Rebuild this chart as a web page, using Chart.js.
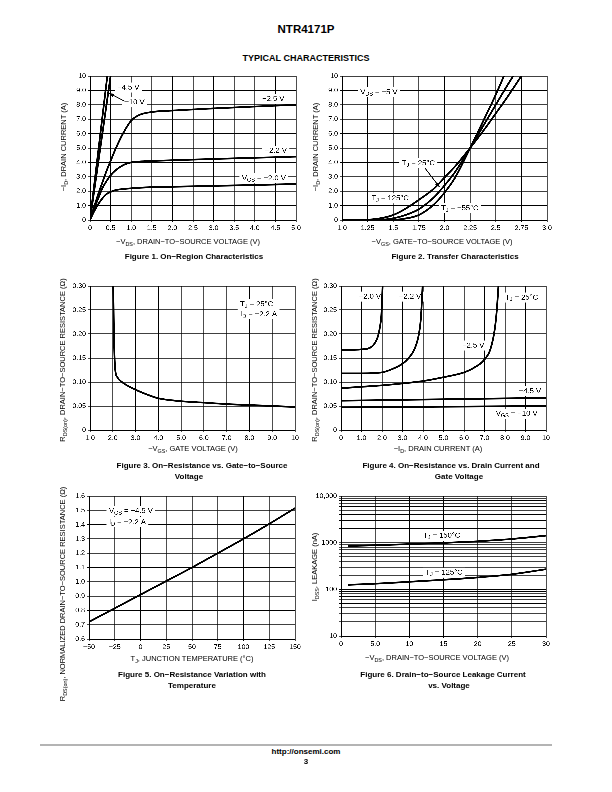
<!DOCTYPE html>
<html>
<head>
<meta charset="utf-8">
<script src="https://cdn.jsdelivr.net/npm/chart.js@4.4.1/dist/chart.umd.min.js"></script>
<style>
  body { margin: 0; background: #fff; }
  #page { position: relative; width: 612px; height: 792px; font-family: "Liberation Sans", Arial, sans-serif; color: #000; overflow: hidden; }
  .t { position: absolute; transform: translate(-50%, -50%); white-space: nowrap; font-size: 7.5px; line-height: 1; }
  .ry { transform: translate(-50%, -50%) rotate(-90deg); }
  .b { font-weight: bold; font-size: 8px; }
  sub { font-size: 72%; vertical-align: -0.3em; line-height: 0; }
  canvas { position: absolute; }
  #rule { position: absolute; left: 40px; top: 744px; width: 512px; height: 2px; background: #b4b4b4; }
</style>
</head>
<body>
<div id="page">
  <div class="t" style="left:306px;top:30px;font-weight:bold;font-size:11.5px;">NTR4171P</div>
  <div class="t" style="left:306px;top:58px;font-weight:bold;font-size:9px;">TYPICAL CHARACTERISTICS</div>

  <canvas id="c1"></canvas>
  <canvas id="c2"></canvas>
  <canvas id="c3"></canvas>
  <canvas id="c4"></canvas>
  <canvas id="c5"></canvas>
  <canvas id="c6"></canvas>

  <!-- figure 1 -->
  <div class="t ry" style="left:64px;top:147px;">−I<sub>D</sub>, DRAIN CURRENT (A)</div>
  <div class="t" style="left:188px;top:242px;">−V<sub>DS</sub>, DRAIN−TO−SOURCE VOLTAGE (V)</div>
  <div class="t b" style="left:194px;top:257px;">Figure 1. On−Region Characteristics</div>
  <!-- figure 2 -->
  <div class="t ry" style="left:316px;top:147px;">−I<sub>D</sub>, DRAIN CURRENT (A)</div>
  <div class="t" style="left:442px;top:242px;">−V<sub>GS</sub>, GATE−TO−SOURCE VOLTAGE (V)</div>
  <div class="t b" style="left:455px;top:257px;">Figure 2. Transfer Characteristics</div>
  <!-- figure 3 -->
  <div class="t ry" style="left:63px;top:360px;">R<sub>DS(on)</sub>, DRAIN−TO−SOURCE RESISTANCE (Ω)</div>
  <div class="t" style="left:193px;top:449px;">−V<sub>GS</sub>, GATE VOLTAGE (V)</div>
  <div class="t b" style="left:202px;top:466px;">Figure 3. On−Resistance vs. Gate−to−Source</div>
  <div class="t b" style="left:189px;top:477px;">Voltage</div>
  <!-- figure 4 -->
  <div class="t ry" style="left:315px;top:360px;">R<sub>DS(on)</sub>, DRAIN−TO−SOURCE RESISTANCE (Ω)</div>
  <div class="t" style="left:438px;top:449px;">−I<sub>D</sub>, DRAIN CURRENT (A)</div>
  <div class="t b" style="left:451px;top:466px;">Figure 4. On−Resistance vs. Drain Current and</div>
  <div class="t b" style="left:459px;top:477px;">Gate Voltage</div>
  <!-- figure 5 -->
  <div class="t ry" style="left:63px;top:594px;">R<sub>DS(on)</sub>, NORMALIZED DRAIN−TO−SOURCE RESISTANCE (Ω)</div>
  <div class="t" style="left:192px;top:659px;">T<sub>J</sub>, JUNCTION TEMPERATURE (°C)</div>
  <div class="t b" style="left:192px;top:675px;">Figure 5. On−Resistance Variation with</div>
  <div class="t b" style="left:192px;top:686px;">Temperature</div>
  <!-- figure 6 -->
  <div class="t ry" style="left:315px;top:567px;">I<sub>DSS</sub>, LEAKAGE (nA)</div>
  <div class="t" style="left:437px;top:658px;">−V<sub>DS</sub>, DRAIN−TO−SOURCE VOLTAGE (V)</div>
  <div class="t b" style="left:443px;top:675px;">Figure 6. Drain−to−Source Leakage Current</div>
  <div class="t b" style="left:449px;top:686px;">vs. Voltage</div>

  <div id="rule"></div>
  <div class="t b" style="left:306px;top:752px;">http://onsemi.com</div>
  <div class="t b" style="left:306px;top:762px;">3</div>
</div>

<script>
// ---- Figure 1: on-region characteristics ----
const fig1Vds   = [0, 0.1, 0.2, 0.3, 0.4, 0.5, 0.6, 0.8, 1.0, 1.2, 1.5, 2.0, 3.0, 4.0, 5.0];
const fig1Id20  = [0, 0.6, 1.1, 1.5, 1.8, 1.95, 2.06, 2.15, 2.2, 2.24, 2.28, 2.31, 2.37, 2.43, 2.5];
const fig1Id22  = [0, 0.8, 1.5, 2.2, 2.7, 3.1, 3.4, 3.8, 4.0, 4.06, 4.1, 4.15, 4.24, 4.32, 4.4];
const fig1Id25  = [0, 0.9, 1.8, 2.6, 3.4, 4.1, 4.8, 6.0, 6.9, 7.3, 7.5, 7.6, 7.75, 7.88, 8.0];
const fig1Vds10 = [0, 0.42];
const fig1Id10  = [0, 10];
const fig1Vds45 = [0, 0.50];
const fig1Id45  = [0, 10];
const fig1XTicks  = [0, 0.5, 1, 1.5, 2, 2.5, 3, 3.5, 4, 4.5, 5];
const fig1XLabels = ['0', '0.5', '1.0', '1.5', '2.0', '2.5', '3.0', '3.5', '4.0', '4.5', '5.0'];
const idTicks  = [0, 1, 2, 3, 4, 5, 6, 7, 8, 9, 10];
const idLabels = ['0', '1.0', '2.0', '3.0', '4.0', '5.0', '6.0', '7.0', '8.0', '9.0', '10'];

// ---- Figure 2: transfer characteristics ----
const fig2Vgs125 = [1.0, 1.25, 1.4, 1.5, 1.6, 1.75, 1.9, 2.0, 2.1, 2.25, 2.4, 2.5, 2.6, 2.75];
const fig2Id125  = [0, 0.02, 0.15, 0.35, 0.7, 1.4, 2.2, 2.95, 3.7, 5.0, 6.4, 7.4, 8.4, 10];
const fig2Vgs25  = [1.0, 1.4, 1.5, 1.6, 1.75, 1.9, 2.0, 2.1, 2.25, 2.4, 2.5, 2.6, 2.67];
const fig2Id25   = [0, 0.03, 0.12, 0.3, 0.75, 1.6, 2.4, 3.3, 5.0, 6.8, 8.0, 9.2, 10];
const fig2VgsM55 = [1.0, 1.5, 1.6, 1.75, 1.9, 2.0, 2.1, 2.25, 2.4, 2.5, 2.58];
const fig2IdM55  = [0, 0.02, 0.08, 0.35, 1.1, 1.9, 2.9, 5.0, 7.2, 8.7, 10];
const fig2XTicks  = [1, 1.25, 1.5, 1.75, 2, 2.25, 2.5, 2.75, 3];
const fig2XLabels = ['1.0', '1.25', '1.5', '1.75', '2.0', '2.25', '2.5', '2.75', '3.0'];

// ---- Figure 3: on-resistance vs gate voltage ----
const fig3Vgs = [2.02, 2.05, 2.1, 2.2, 2.4, 3.0, 3.5, 4.0, 5.0, 6.0, 7.0, 8.0, 9.0, 10];
const fig3Rds = [0.30, 0.20, 0.13, 0.11, 0.10, 0.084, 0.074, 0.066, 0.060, 0.057, 0.054, 0.052, 0.050, 0.048];
const fig3XTicks  = [1, 2, 3, 4, 5, 6, 7, 8, 9, 10];
const fig3XLabels = ['1.0', '2.0', '3.0', '4.0', '5.0', '6.0', '7.0', '8.0', '9.0', '10'];
const rdsTicks  = [0, 0.05, 0.10, 0.15, 0.20, 0.25, 0.30];
const rdsLabels = ['0', '0.05', '0.10', '0.15', '0.20', '0.25', '0.30'];

// ---- Figure 4: on-resistance vs drain current ----
const fig4Id20  = [0, 0.5, 1.0, 1.4, 1.6, 1.8, 1.9, 1.97, 2.03];
const fig4Rds20 = [0.166, 0.167, 0.168, 0.171, 0.178, 0.195, 0.215, 0.24, 0.30];
const fig4Id22  = [0, 1, 2, 2.5, 3, 3.3, 3.6, 3.8, 3.9, 3.98];
const fig4Rds22 = [0.118, 0.118, 0.12, 0.127, 0.138, 0.15, 0.17, 0.2, 0.235, 0.30];
const fig4Id25  = [0, 1, 2, 3, 4, 5, 6, 6.5, 7, 7.3, 7.5, 7.6, 7.68];
const fig4Rds25 = [0.087, 0.09, 0.093, 0.097, 0.102, 0.11, 0.12, 0.13, 0.147, 0.17, 0.21, 0.25, 0.30];
const fig4Id45  = [0, 10];
const fig4Rds45 = [0.061, 0.067];
const fig4Id10  = [0, 10];
const fig4Rds10 = [0.047, 0.050];
const fig4XTicks  = [0, 1, 2, 3, 4, 5, 6, 7, 8, 9, 10];
const fig4XLabels = ['0', '1.0', '2.0', '3.0', '4.0', '5.0', '6.0', '7.0', '8.0', '9.0', '10'];

// ---- Figure 5: normalized on-resistance vs temperature ----
const fig5Temp = [-50, -25, 0, 25, 50, 75, 100, 125, 150];
const fig5Rn   = [0.72, 0.815, 0.91, 1.005, 1.10, 1.20, 1.30, 1.405, 1.515];
const fig5XTicks  = [-50, -25, 0, 25, 50, 75, 100, 125, 150];
const fig5XLabels = ['−50', '−25', '0', '25', '50', '75', '100', '125', '150'];
const fig5YTicks  = [0.6, 0.7, 0.8, 0.9, 1.0, 1.1, 1.2, 1.3, 1.4, 1.5, 1.6];
const fig5YLabels = ['0.6', '0.7', '0.8', '0.9', '1.0', '1.1', '1.2', '1.3', '1.4', '1.5', '1.6'];

// ---- Figure 6: leakage current vs voltage ----
const fig6Vds  = [1, 5, 10, 15, 20, 25, 30];
const fig6I150 = [850, 880, 930, 990, 1070, 1200, 1420];
const fig6I125 = [125, 132, 145, 160, 180, 210, 270];
const fig6XTicks  = [0, 5, 10, 15, 20, 25, 30];
const fig6XLabels = ['0', '5.0', '10', '15', '20', '25', '30'];
const fig6YTicks  = [10, 100, 1000, 10000];
const fig6YLabels = ['10', '100', '1000', '10,000'];

const FONT = '"Liberation Sans", Arial, sans-serif';
Chart.defaults.font.family = FONT;
Chart.defaults.font.size = 7;
Chart.defaults.color = '#000';

function series(xs, ys) {
  return {
    data: xs.map((x, i) => ({ x: x, y: ys[i] })),
    borderColor: '#000', borderWidth: 1.8, pointRadius: 0,
    cubicInterpolationMode: 'monotone', fill: false
  };
}

function axis(vals, labelFor, fit, extra) {
  return Object.assign({
    type: 'linear', min: vals[0], max: vals[vals.length - 1],
    afterBuildTicks: s => { s.ticks = vals.map(v => ({ value: v })); },
    afterFit: fit,
    ticks: { callback: (v, i) => labelFor(v, i), autoSkip: false, maxRotation: 0, padding: 2 },
    grid: { color: '#000', lineWidth: 0.8, tickLength: 2 },
    border: { color: '#000', width: 1 }
  }, extra || {});
}

// rich text: "V_{GS}" -> V with subscript GS
function parseRich(str) {
  const out = [];
  const re = /_\{([^}]*)\}/g;
  let last = 0, m;
  while ((m = re.exec(str))) {
    if (m.index > last) out.push({ t: str.slice(last, m.index), sub: false });
    out.push({ t: m[1], sub: true });
    last = re.lastIndex;
  }
  if (last < str.length) out.push({ t: str.slice(last), sub: false });
  return out;
}

function notesPlugin(items, leaders) {
  const fMain = '7.6px ' + FONT, fSub = '5.5px ' + FONT;
  return {
    id: 'notes',
    beforeDatasetsDraw(chart) {
      const ctx = chart.ctx, sx = chart.scales.x, sy = chart.scales.y;
      ctx.save();
      ctx.textBaseline = 'middle';
      items.forEach(it => {
        const segs = parseRich(it.text);
        let w = 0;
        segs.forEach(s => { ctx.font = s.sub ? fSub : fMain; s.w = ctx.measureText(s.t).width; w += s.w; });
        const px = sx.getPixelForValue(it.x), py = sy.getPixelForValue(it.y);
        let x0 = it.align === 'left' ? px : px - w / 2;
        ctx.fillStyle = '#fff';
        ctx.fillRect(x0 - 2.5, py - 5, w + 5, 10);
        ctx.fillStyle = '#000';
        segs.forEach(s => {
          ctx.font = s.sub ? fSub : fMain;
          ctx.fillText(s.t, x0, s.sub ? py + 2 : py);
          x0 += s.w;
        });
      });
      ctx.restore();
    },
    afterDatasetsDraw(chart) {
      const ctx = chart.ctx, sx = chart.scales.x, sy = chart.scales.y;
      ctx.save();
      ctx.strokeStyle = '#000'; ctx.fillStyle = '#000'; ctx.lineWidth = 0.9;
      leaders.forEach(l => {
        const x1 = sx.getPixelForValue(l[0]), y1 = sy.getPixelForValue(l[1]);
        const x2 = sx.getPixelForValue(l[2]), y2 = sy.getPixelForValue(l[3]);
        ctx.beginPath(); ctx.moveTo(x1, y1); ctx.lineTo(x2, y2); ctx.stroke();
        const a = Math.atan2(y2 - y1, x2 - x1), L = 4.5, h = 1.8;
        ctx.beginPath();
        ctx.moveTo(x2, y2);
        ctx.lineTo(x2 - L * Math.cos(a) + h * Math.sin(a), y2 - L * Math.sin(a) - h * Math.cos(a));
        ctx.lineTo(x2 - L * Math.cos(a) - h * Math.sin(a), y2 - L * Math.sin(a) + h * Math.cos(a));
        ctx.closePath(); ctx.fill();
      });
      ctx.restore();
    }
  };
}

const PADL = 40, PADB = 18, PADT = 10, PADR = 10;

function makeChart(id, plot, xAxis, yAxis, datasets, items, leaders) {
  const [l, t, r, b] = plot;
  const cv = document.getElementById(id);
  const w = r - l + PADL + PADR, h = b - t + PADT + PADB;
  cv.width = w; cv.height = h;
  cv.style.left = (l - PADL) + 'px'; cv.style.top = (t - PADT) + 'px';
  cv.style.width = w + 'px'; cv.style.height = h + 'px';
  return new Chart(cv, {
    type: 'line',
    data: { datasets: datasets },
    options: {
      responsive: false, animation: false, devicePixelRatio: 3,
      layout: { padding: { left: 0, bottom: 0, top: PADT, right: PADR } },
      plugins: { legend: { display: false }, tooltip: { enabled: false } },
      scales: { x: xAxis, y: yAxis }
    },
    plugins: [notesPlugin(items, leaders || [])]
  });
}

const fitX = s => { s.height = PADB; };
const fitY = s => { s.width = PADL; };
const byIndex = labels => (v, i) => labels[i];

makeChart('c1', [90, 76, 296, 220],
  axis(fig1XTicks, byIndex(fig1XLabels), fitX),
  axis(idTicks, byIndex(idLabels), fitY),
  [series(fig1Vds, fig1Id20), series(fig1Vds, fig1Id22), series(fig1Vds, fig1Id25),
   series(fig1Vds10, fig1Id10), series(fig1Vds45, fig1Id45)],
  [{ x: 0.93, y: 9.2, text: '−4.5 V' },
   { x: 1.08, y: 8.17, text: '−10 V' },
   { x: 4.45, y: 8.4, text: '−2.5 V' },
   { x: 4.51, y: 4.81, text: '−2.2 V' },
   { x: 4.22, y: 2.9, text: 'V_{GS} = −2.0 V' }],
  [[0.84, 8.25, 0.47, 8.8]]);

makeChart('c2', [342, 76, 547, 220],
  axis(fig2XTicks, byIndex(fig2XLabels), fitX),
  axis(idTicks, byIndex(idLabels), fitY),
  [series(fig2Vgs125, fig2Id125), series(fig2Vgs25, fig2Id25), series(fig2VgsM55, fig2IdM55)],
  [{ x: 1.36, y: 8.87, text: 'V_{DS} = −5 V' },
   { x: 1.745, y: 3.94, text: 'T_{J} = 25°C' },
   { x: 1.47, y: 1.5, text: 'T_{J} = 125°C' },
   { x: 2.15, y: 0.81, text: 'T_{J} = −55°C' }],
  [[1.81, 3.6, 1.95, 2.3]]);

makeChart('c3', [90, 286, 295, 430],
  axis(fig3XTicks, byIndex(fig3XLabels), fitX),
  axis(rdsTicks, byIndex(rdsLabels), fitY),
  [series(fig3Vgs, fig3Rds)],
  [{ x: 7.59, y: 0.262, text: 'T_{J} = 25°C', align: 'left' },
   { x: 7.59, y: 0.241, text: 'I_{D} = −2.2 A', align: 'left' }]);

makeChart('c4', [341, 286, 546, 430],
  axis(fig4XTicks, byIndex(fig4XLabels), fitX),
  axis(rdsTicks, byIndex(rdsLabels), fitY),
  [series(fig4Id20, fig4Rds20), series(fig4Id22, fig4Rds22), series(fig4Id25, fig4Rds25),
   series(fig4Id45, fig4Rds45), series(fig4Id10, fig4Rds10)],
  [{ x: 1.41, y: 0.278, text: '−2.0 V' },
   { x: 3.37, y: 0.278, text: '−2.2 V' },
   { x: 8.81, y: 0.276, text: 'T_{J} = 25°C' },
   { x: 6.45, y: 0.176, text: '−2.5 V' },
   { x: 9.22, y: 0.081, text: '−4.5 V' },
   { x: 8.57, y: 0.034, text: 'V_{GS} = −10 V' }]);

makeChart('c5', [89, 496, 295, 639],
  axis(fig5XTicks, byIndex(fig5XLabels), fitX),
  axis(fig5YTicks, byIndex(fig5YLabels), fitY),
  [series(fig5Temp, fig5Rn)],
  [{ x: -30.6, y: 1.495, text: 'V_{GS} = −4.5 V', align: 'left' },
   { x: -30.6, y: 1.416, text: 'I_{D} = −2.2 A', align: 'left' }]);

// log axis: full decade grid, labels only on the decades
const fig6YGrid = [];
for (let d = 0; d < fig6YTicks.length - 1; d++) {
  for (let k = 1; k < 10; k++) fig6YGrid.push(k * fig6YTicks[d]);
}
fig6YGrid.push(fig6YTicks[fig6YTicks.length - 1]);

makeChart('c6', [341, 496, 546, 636],
  axis(fig6XTicks, byIndex(fig6XLabels), fitX),
  axis(fig6YGrid, v => { const i = fig6YTicks.indexOf(v); return i >= 0 ? fig6YLabels[i] : ''; }, fitY, { type: 'logarithmic' }),
  [series(fig6Vds, fig6I150), series(fig6Vds, fig6I125)],
  [{ x: 14.74, y: 1410, text: 'T_{J} = 150°C' },
   { x: 15.08, y: 228, text: 'T_{J} = 125°C' }]);
</script>
</body>
</html>
